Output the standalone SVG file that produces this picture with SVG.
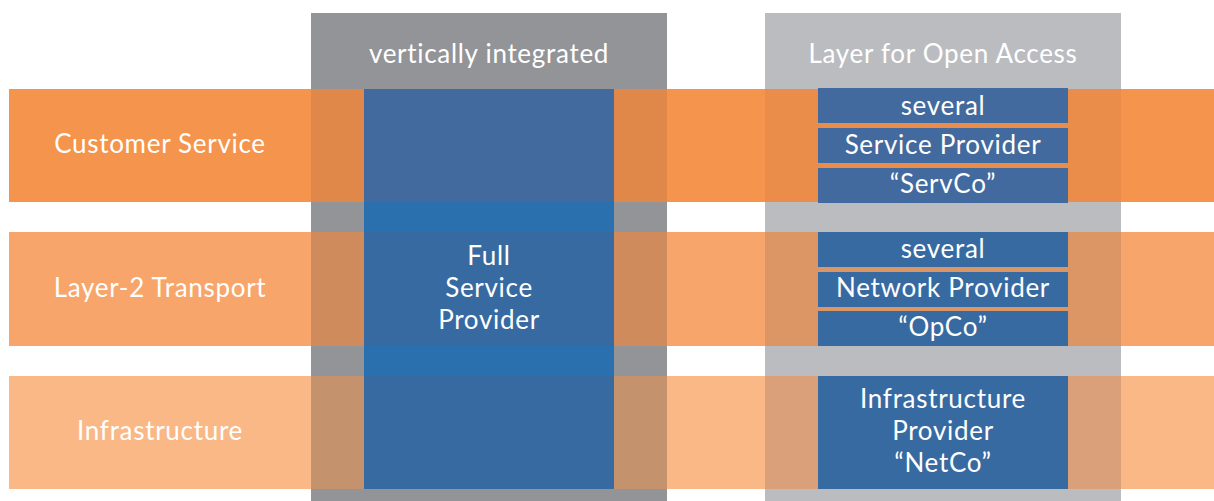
<svg xmlns="http://www.w3.org/2000/svg" width="1214" height="501" viewBox="0 0 1214 501">
<style>
text{font-family:Lato,"Noto Sans","Liberation Sans",sans-serif;fill:#ffffff;font-size:26px;letter-spacing:0.7px;text-anchor:middle}
.b1{fill:#f5944d}.b2{fill:#f8a56b}.b3{fill:#f9b886}
.d1{fill:#e0874a}.d2{fill:#d08b5d}.d3{fill:#c4926c}
.l1{fill:#ea8c4a}.l2{fill:#dc9564}.l3{fill:#d9a07a}
.bl1{fill:#436a9e}.bl2{fill:#386aa2}
</style>
<rect width="1214" height="501" fill="#ffffff"/>
<g id="col-vertical">
<rect x="311" y="13" width="356" height="488" fill="#939498"/>
<text x="489" y="63">vertically integrated</text>
</g>
<g id="col-open">
<rect x="765" y="13" width="356" height="488" fill="#bbbcbf"/>
<text x="943" y="63">Layer for Open Access</text>
</g>
<g id="band-customer">
<rect class="b1" x="9" y="89" width="1205" height="113"/>
<rect class="d1" x="311" y="89" width="356" height="113"/>
<rect class="l1" x="765" y="89" width="356" height="113"/>
<text x="160" y="153">Customer Service</text>
</g>
<g id="band-transport">
<rect class="b2" x="9" y="232" width="1205" height="114"/>
<rect class="d2" x="311" y="232" width="356" height="114"/>
<rect class="l2" x="765" y="232" width="356" height="114"/>
<text x="160" y="297">Layer-2 Transport</text>
</g>
<g id="band-infra">
<rect class="b3" x="9" y="376" width="1205" height="113"/>
<rect class="d3" x="311" y="376" width="356" height="113"/>
<rect class="l3" x="765" y="376" width="356" height="113"/>
<text x="160" y="440">Infrastructure</text>
</g>
<g id="full-service-provider">
<rect x="364" y="89" width="250" height="400" fill="#2a6fae"/>
<rect class="bl1" x="364" y="89" width="250" height="113"/>
<rect class="bl2" x="364" y="232" width="250" height="114"/>
<rect class="bl2" x="364" y="376" width="250" height="113"/>
<text x="489" y="265">Full</text>
<text x="489" y="297">Service</text>
<text x="489" y="329">Provider</text>
</g>
<g id="servco-several">
<rect class="bl1" x="818" y="88" width="250" height="35"/>
<text x="943" y="115">several</text>
</g>
<g id="servco-provider">
<rect class="bl1" x="818" y="128" width="250" height="35"/>
<text x="943" y="154">Service Provider</text>
</g>
<g id="servco-name">
<rect class="bl1" x="818" y="168" width="250" height="35"/>
<text x="943" y="193">“ServCo”</text>
</g>
<g id="opco-several">
<rect class="bl2" x="818" y="232" width="250" height="35"/>
<text x="943" y="258">several</text>
</g>
<g id="opco-provider">
<rect class="bl2" x="818" y="272" width="250" height="35"/>
<text x="943" y="297">Network Provider</text>
</g>
<g id="opco-name">
<rect class="bl2" x="818" y="311" width="250" height="35"/>
<text x="943" y="336">“OpCo”</text>
</g>
<g id="netco">
<rect class="bl2" x="818" y="376" width="250" height="113"/>
<text x="943" y="408">Infrastructure</text>
<text x="943" y="440">Provider</text>
<text x="943" y="472">“NetCo”</text>
</g>
<g id="connectors"/>
</svg>
